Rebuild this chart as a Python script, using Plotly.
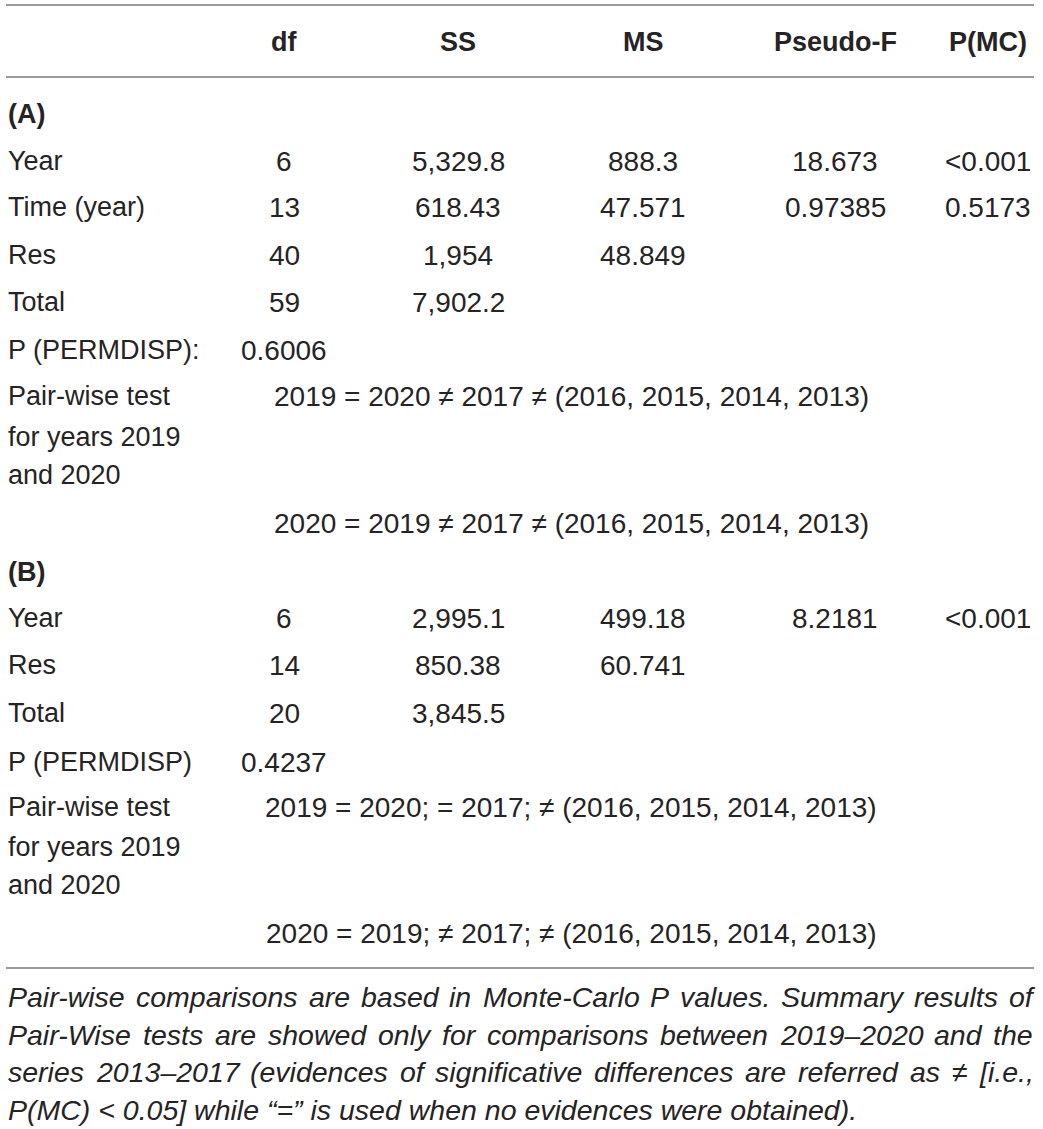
import plotly.graph_objects as go

# ---- table contents ----
columns = ["df", "SS", "MS", "Pseudo-F", "P(MC)"]

# (A)
sources_a = ["Year", "Time (year)", "Res", "Total"]
df_a = ["6", "13", "40", "59"]
ss_a = ["5,329.8", "618.43", "1,954", "7,902.2"]
ms_a = ["888.3", "47.571", "48.849", ""]
pseudo_f_a = ["18.673", "0.97385", "", ""]
p_mc_a = ["<0.001", "0.5173", "", ""]
permdisp_label_a = "P (PERMDISP):"
permdisp_a = "0.6006"
pairwise_a = ["2019 = 2020 ≠ 2017 ≠ (2016, 2015, 2014, 2013)",
              "2020 = 2019 ≠ 2017 ≠ (2016, 2015, 2014, 2013)"]

# (B)
sources_b = ["Year", "Res", "Total"]
df_b = ["6", "14", "20"]
ss_b = ["2,995.1", "850.38", "3,845.5"]
ms_b = ["499.18", "60.741", ""]
pseudo_f_b = ["8.2181", "", ""]
p_mc_b = ["<0.001", "", ""]
permdisp_label_b = "P (PERMDISP)"
permdisp_b = "0.4237"
pairwise_b = ["2019 = 2020; = 2017; ≠ (2016, 2015, 2014, 2013)",
              "2020 = 2019; ≠ 2017; ≠ (2016, 2015, 2014, 2013)"]

pairwise_label = ["Pair-wise test", "for years 2019", "and 2020"]

footnote = [
    "Pair-wise comparisons are based in Monte-Carlo P values. Summary results of",
    "Pair-Wise tests are showed only for comparisons between 2019–2020 and the",
    "series 2013–2017 (evidences of significative differences are referred as ≠ [i.e.,",
    "P(MC) < 0.05] while “=” is used when no evidences were obtained).",
]

# ---- layout (pixels) ----
W, H = 1043, 1129
FONT = "Liberation Sans, Arial, sans-serif"
SIZE = 27        # labels / header
NUM_SIZE = 28    # numbers look a touch wider in the original
FOOT_SIZE = 28.5
INK = "#262324"
RULE = "#9b9b9b"

left_x = 7
col_x = [284, 458, 643, 835, 988]
pair_x = 571
header_y = 42
rules_y = [5, 77, 968]

title_a_y = 114
rows_a_y = [161, 207, 255, 302]
permdisp_a_y = 350
pair_label_a_y = [396, 437, 475]
pair_a_y = [396, 523]

title_b_y = 572
rows_b_y = [618, 665, 713]
permdisp_b_y = 762
pair_label_b_y = [807, 847, 885]
pair_b_y = [807, 933]

foot_y = [997, 1035, 1072, 1110]
foot_left, foot_right = 7, 1032

# Arial / Liberation Sans advance widths (1/1000 em), used to justify the footnote
widths = {" ": 278, "(": 333, ")": 333, ",": 278, "-": 333, ".": 278, ":": 278,
          ";": 278, "<": 584, "=": 584, "[": 278, "]": 278, "–": 556, "“": 333,
          "”": 333, "≠": 549}
for ch in "0123456789":
    widths[ch] = 556
for ch, w in zip("ABCDEFGHIJKLMNOPQRSTUVWXYZ",
                 [667, 667, 722, 722, 667, 611, 778, 722, 278, 500, 667, 556, 833,
                  722, 778, 667, 778, 722, 667, 611, 722, 667, 944, 667, 667, 611]):
    widths[ch] = w
for ch, w in zip("abcdefghijklmnopqrstuvwxyz",
                 [556, 556, 500, 556, 556, 278, 556, 556, 222, 222, 500, 222, 833,
                  556, 556, 556, 556, 333, 500, 278, 556, 500, 722, 500, 500, 500]):
    widths[ch] = w


def text_width(s, size):
    return sum(widths.get(c, 556) for c in s) * size / 1000


annotations = []


def cell(x, y, text, anchor="center", bold=False, italic=False, size=SIZE):
    if text == "":
        return
    annotations.append(dict(
        x=x, y=y, xref="x", yref="y", text=text, showarrow=False,
        xanchor=anchor, yanchor="middle", borderpad=0,
        font=dict(family=FONT, size=size, color=INK,
                  weight="bold" if bold else "normal",
                  style="italic" if italic else "normal"),
    ))


# header
for cx, name in zip(col_x, columns):
    cell(cx, header_y, name, bold=True)


def block(title, title_y, sources, rows_y, cols, perm_label, perm_val, perm_y,
          label_y, pairs, pairs_y):
    cell(left_x, title_y, title, anchor="left", bold=True)
    for i, (src, ry) in enumerate(zip(sources, rows_y)):
        cell(left_x, ry, src, anchor="left")
        for cx, col in zip(col_x, cols):
            cell(cx, ry, col[i], size=NUM_SIZE)
    cell(left_x, perm_y, perm_label, anchor="left")
    cell(col_x[0], perm_y, perm_val, size=NUM_SIZE)
    for txt, ly in zip(pairwise_label, label_y):
        cell(left_x, ly, txt, anchor="left")
    for txt, py in zip(pairs, pairs_y):
        cell(pair_x, py, txt, size=NUM_SIZE)


block("(A)", title_a_y, sources_a, rows_a_y,
      [df_a, ss_a, ms_a, pseudo_f_a, p_mc_a],
      permdisp_label_a, permdisp_a, permdisp_a_y, pair_label_a_y, pairwise_a, pair_a_y)
block("(B)", title_b_y, sources_b, rows_b_y,
      [df_b, ss_b, ms_b, pseudo_f_b, p_mc_b],
      permdisp_label_b, permdisp_b, permdisp_b_y, pair_label_b_y, pairwise_b, pair_b_y)

# footnote: justified lines, last line left aligned
for k, (line, fy) in enumerate(zip(footnote, foot_y)):
    if k == len(footnote) - 1:
        cell(foot_left, fy, line, anchor="left", italic=True, size=FOOT_SIZE)
        continue
    words = line.split(" ")
    total = sum(text_width(w_, FOOT_SIZE) for w_ in words)
    gap = (foot_right - foot_left - total) / (len(words) - 1)
    x = foot_left
    for w_ in words:
        cell(x, fy, w_, anchor="left", italic=True, size=FOOT_SIZE)
        x += text_width(w_, FOOT_SIZE) + gap

shapes = [dict(type="line", xref="x", yref="y", x0=6, x1=1034, y0=ry, y1=ry,
               line=dict(color=RULE, width=2)) for ry in rules_y]

fig = go.Figure()
fig.update_layout(
    width=W, height=H,
    margin=dict(l=0, r=0, t=0, b=0),
    paper_bgcolor="white", plot_bgcolor="white",
    xaxis=dict(range=[0, W], visible=False, fixedrange=True),
    yaxis=dict(range=[H, 0], visible=False, fixedrange=True),
    showlegend=False,
    annotations=annotations,
    shapes=shapes,
)

fig.write_html("out.html", config={"displayModeBar": False},
               post_script="document.body.style.margin='0';document.body.style.overflow='hidden';")
